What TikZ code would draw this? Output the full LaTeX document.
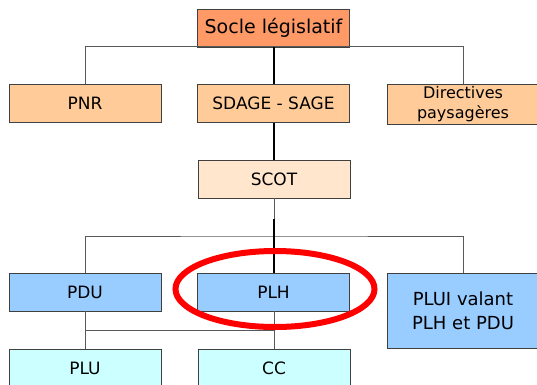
\documentclass[tikz,border=0pt]{standalone}
\usepackage{fontspec}
\setmainfont{DejaVu Sans}
\begin{document}
\begin{tikzpicture}[x=1pt,y=-1pt,
  box/.style={draw=black!75, line width=0.9pt, rectangle, inner sep=0pt,
    minimum width=152pt, minimum height=38pt, align=center,
    font=\fontsize{17pt}{22pt}\selectfont},
  link/.style={draw=black!65, line width=0.9pt},
  spine/.style={draw=black, line width=1.6pt}]
\definecolor{socle}{HTML}{FF9966}
\definecolor{peach}{HTML}{FFCC99}
\definecolor{cream}{HTML}{FFE6CC}
\definecolor{sky}{HTML}{99CCFF}
\definecolor{aqua}{HTML}{CCFFFF}
\useasboundingbox (0,0) rectangle (537,384);

% top level
\node[box, fill=socle, font=\fontsize{19pt}{22pt}\selectfont] (socle) at (273.5,28) {Socle législatif};
\node[box, fill=peach] (pnr)   at (85,103.5)  {PNR};
\node[box, fill=peach] (sdage) at (273.5,103.5) {SDAGE - SAGE};
\node[box, fill=peach, minimum height=40pt,
      font=\fontsize{16pt}{20pt}\selectfont] (dir) at (463,104) {Directives\\paysagères};
\node[box, fill=cream] (scot)  at (274,179) {SCOT};

% planning documents
\node[box, fill=sky] (pdu) at (85,292)   {PDU};
\node[box, fill=sky] (plh) at (273.5,292) {PLH};
\node[box, fill=sky, minimum height=75pt,
      font=\fontsize{18pt}{24pt}\selectfont] (plui) at (463,310.5) {PLUI valant\\PLH et PDU};
\node[box, fill=aqua] (plu) at (85,368)   {PLU};
\node[box, fill=aqua] (cc)  at (274,368)  {CC};

% buses
\coordinate (bus1) at (274,46.5);
\coordinate (bus2) at (274,236);
\coordinate (bus3) at (274,330);
\coordinate (join) at (274,219);

\draw[link] (pnr.north) |- (bus1) -| (dir.north);
\draw[spine] (socle.south -| bus1) -- (sdage.north -| bus1);
\draw[spine] (sdage.south -| bus1) -- (scot.north -| bus1);
\draw[link] (scot.south -| bus2) -- (bus2);
\draw[link] (pdu.north) |- (bus2) -| (plui.north);
\draw[black, line width=1.1pt] (join) -- (plh.north -| join);
\draw[link] (pdu.south) -- (plu.north);
\draw[link] (plh.south -| bus3) -- (cc.north -| bus3);
\draw[link] (pdu.south |- bus3) -- (bus3);

% highlight around PLH
\draw[red, line width=6pt] (275,289) ellipse [x radius=99.5, y radius=38];
\end{tikzpicture}
\end{document}
